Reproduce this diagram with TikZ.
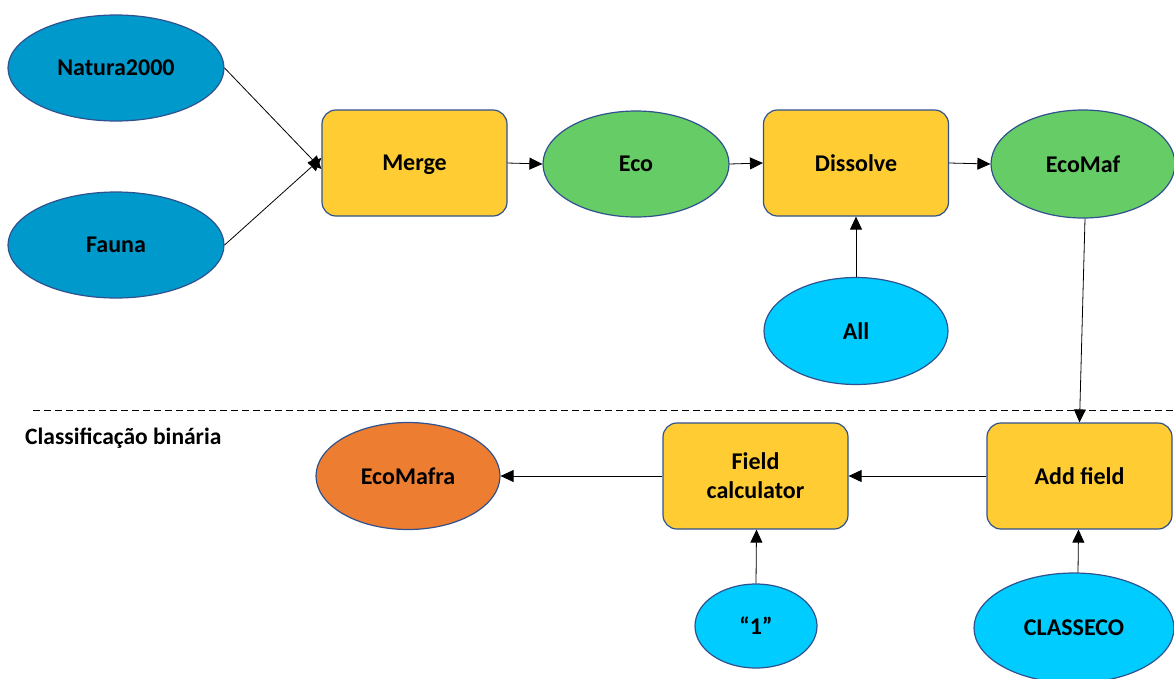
\documentclass[tikz,border=0pt]{standalone}
\usepackage{fontspec}
\setmainfont{Carlito}
\usetikzlibrary{shapes.geometric,arrows.meta}
\definecolor{bord}{RGB}{47,82,143}
\definecolor{dblue}{RGB}{0,153,204}
\definecolor{egreen}{RGB}{102,204,102}
\definecolor{byellow}{RGB}{255,204,51}
\definecolor{lcyan}{RGB}{0,204,255}
\definecolor{eorange}{RGB}{237,125,49}
\tikzset{
  lbl/.style={font=\fontsize{24}{29}\selectfont\bfseries, text=black},
  ell/.style={ellipse, draw=bord, line width=1.2pt, inner sep=0pt, lbl},
  proc/.style={rectangle, rounded corners=14pt, draw=bord, line width=1.2pt, fill=byellow, minimum width=185pt, minimum height=106pt, inner sep=0pt, align=center, lbl},
  arr/.style={line width=0.8pt, draw=black, -{Triangle[length=13pt,width=12pt]}},
}
\begin{document}
\begin{tikzpicture}[x=1pt,y=-1pt]
\useasboundingbox (0,0) rectangle (1174,678);
\clip (0,0) rectangle (1174,678);
% nodes
\node[ell, fill=dblue, minimum width=216pt, minimum height=106pt] (nat) at (116,68) {Natura2000};
\node[ell, fill=dblue, minimum width=216pt, minimum height=106pt] (fau) at (116,245) {Fauna};
\node[proc, text depth=0pt] (merge) at (414.5,163) {Merge};
\node[ell, fill=egreen, minimum width=186pt, minimum height=106pt] (eco) at (636,164) {Eco};
\node[proc] (diss) at (856,163) {Dissolve};
\node[ell, fill=egreen, minimum width=184pt, minimum height=108pt] (ecomaf) at (1083,164) {EcoMaf};
\node[ell, fill=lcyan, minimum width=184pt, minimum height=107pt] (all) at (856,331) {All};
\node[ell, fill=eorange, minimum width=184pt, minimum height=107pt] (ecomafra) at (408,476) {EcoMafra};
\node[proc] (fcalc) at (755.5,476) {Field\\calculator};
\node[proc] (addf) at (1079.5,476) {Add field};
\node[ell, fill=lcyan, minimum width=122pt, minimum height=84pt] (one) at (756,626) {“1”};
\node[ell, fill=lcyan, minimum width=200pt, minimum height=110pt] (cls) at (1074,628) {CLASSECO};
% dashed separator
\coordinate (dl) at (33,410);
\coordinate (dr) at (1174,410);
\draw[line width=0.8pt, dash pattern=on 7pt off 4pt] (dl) -- (dr);
\node[anchor=west, font=\fontsize{23.5}{28}\selectfont\bfseries, inner sep=0pt] (cb) at (25,438) {Classificação binária};
% connectors
\draw[arr] (nat.east) -- ([yshift=-6pt]merge.west);
\draw[arr] (fau.east) -- ([yshift=5pt]merge.west);
\draw[arr] (merge.east) -- (eco.west);
\draw[arr] (eco.east) -- (diss.west);
\draw[arr] (diss.east) -- (ecomaf.west);
\draw[arr] (all.north) -- (diss.south);
\draw[arr] ([xshift=2pt]ecomaf.south) -- (addf.north);
\draw[arr] (addf.west) -- (fcalc.east);
\draw[arr] (fcalc.west) -- (ecomafra.east);
\draw[arr] (one.north) -- ([xshift=1pt]fcalc.south);
\draw[arr] ([xshift=4pt]cls.north) -- ([xshift=-1pt]addf.south);
\end{tikzpicture}
\end{document}
